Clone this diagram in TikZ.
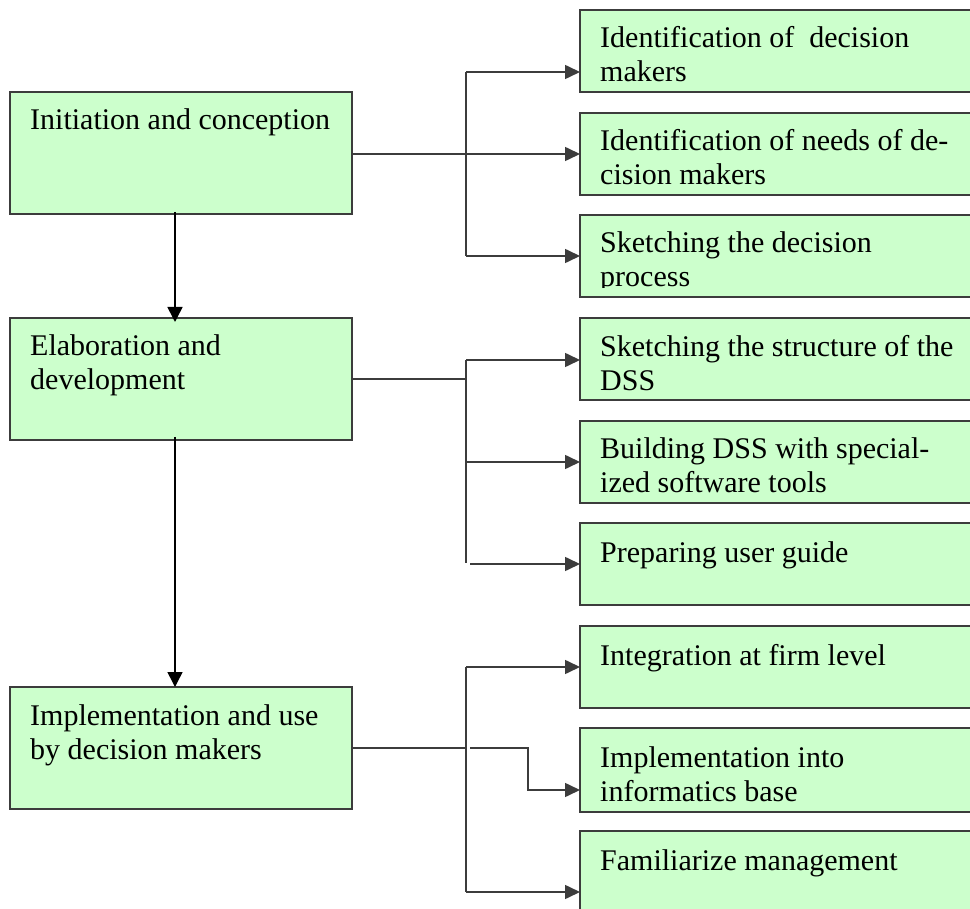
\documentclass[tikz,border=0pt]{standalone}
\usepackage{fontspec}
\setmainfont{Liberation Serif}
\usetikzlibrary{arrows.meta}
\definecolor{boxfill}{HTML}{CCFFCC}
\definecolor{edgegray}{HTML}{3C3C3C}
\newcommand{\boxtxt}[1]{\parbox[t]{400pt}{\raggedright #1}}
\begin{document}
\begin{tikzpicture}[x=1pt,y=-1pt,
  box/.style={draw=edgegray, fill=boxfill, line width=1.6pt, anchor=north west, inner sep=0pt, outer sep=0pt},
  lbox/.style={box, minimum width=342pt},
  rbox/.style={box, minimum width=410pt},
  txtlab/.style={anchor=base west, inner sep=0pt, font=\fontsize{30}{34}\selectfont},
  conn/.style={draw=edgegray, line width=1.6pt},
  arr/.style={conn, -{Triangle[length=15pt,width=14pt]}},
  varr/.style={draw=black, line width=1.6pt, -{Triangle[length=15pt,width=15pt]}}]
\clip (0,0) rectangle (970,909);
\fill[white] (0,0) rectangle (970,909);

% left boxes
\node[lbox, minimum height=122pt] (L1) at (10,92) {};
\node[lbox, minimum height=122pt] (L2) at (10,318) {};
\node[lbox, minimum height=122pt] (L3) at (10,687) {};
% right boxes
\node[rbox, minimum height=82pt] (R1) at (580,10) {};
\node[rbox, minimum height=82pt] (R2) at (580,113) {};
\node[rbox, minimum height=82pt] (R3) at (580,215) {};
\node[rbox, minimum height=82pt] (R4) at (580,318) {};
\node[rbox, minimum height=82pt] (R5) at (580,421) {};
\node[rbox, minimum height=82pt] (R6) at (580,523) {};
\node[rbox, minimum height=82pt] (R7) at (580,626) {};
\node[rbox, minimum height=84pt] (R8) at (580,728) {};
\node[rbox, minimum height=100pt] (R9) at (580,831) {};

% texts
\node[txtlab] (tL1) at (30,130) {\boxtxt{Initiation and conception}};
\node[txtlab] (tL2) at (30,356) {\boxtxt{Elaboration and\\development}};
\node[txtlab] (tL3) at (30,725) {\boxtxt{Implementation and use\\by decision makers}};
\node[txtlab] (tR1) at (600,48) {\boxtxt{Identification of\ \ decision\\makers}};
\node[txtlab] (tR2) at (600,151) {\boxtxt{Identification of needs of de-\\cision makers}};
\begin{scope}
\clip (580,215) rectangle (990,288);
\node[txtlab] (tR3) at (600,253) {\boxtxt{Sketching the decision\\process}};
\end{scope}
\node[txtlab] (tR4) at (600,357) {\boxtxt{Sketching the structure of the\\DSS}};
\node[txtlab] (tR5) at (600,459) {\boxtxt{Building DSS with special-\\ized software tools}};
\node[txtlab] (tR6) at (600,562) {\boxtxt{Preparing user guide}};
\node[txtlab] (tR7) at (600,665) {\boxtxt{Integration at firm level}};
\node[txtlab] (tR8) at (600,767) {\boxtxt{Implementation into\\informatics base}};
\node[txtlab] (tR9) at (600,870) {\boxtxt{Familiarize management}};

% group 1 connectors
\coordinate (a1) at (466,72);
\coordinate (a3) at (466,256);
\draw[arr] (L1.east |- R2.west) -- (R2.west);
\draw[conn] (a1) -- (a3);
\draw[arr] (a1) -- (a1 -| R1.west);
\draw[arr] (a3) -- (a3 -| R3.west);

% group 2 connectors
\coordinate (b1) at (466,360);
\coordinate (b2) at (466,462);
\coordinate (b3) at (466,563);
\coordinate (b3s) at (470,564);
\draw[conn] (L2.east) -- (L2.east -| b1);
\draw[conn] (b1) -- (b3);
\draw[arr] (b1) -- (b1 -| R4.west);
\draw[arr] (b2) -- (b2 -| R5.west);
\draw[arr] (b3s) -- (b3s -| R6.west);

% group 3 connectors
\coordinate (c1) at (466,667);
\coordinate (c3) at (466,892);
\coordinate (c2s) at (470,748);
\coordinate (c2k) at (528,790);
\draw[conn] (L3.east) -- (L3.east -| c1);
\draw[conn] (c1) -- (c3);
\draw[arr] (c1) -- (c1 -| R7.west);
\draw[arr] (c3) -- (c3 -| R9.west);
\draw[arr] (c2s) -- (c2k |- c2s) -- (c2k) -- (c2k -| R8.west);

% vertical arrows between phases
\coordinate (v1) at (175,212);
\coordinate (v1e) at (175,322);
\coordinate (v2) at (175,437);
\coordinate (v2e) at (175,687);
\draw[varr] (v1) -- (v1e);
\draw[varr] (v2) -- (v2e);
\end{tikzpicture}
\end{document}
